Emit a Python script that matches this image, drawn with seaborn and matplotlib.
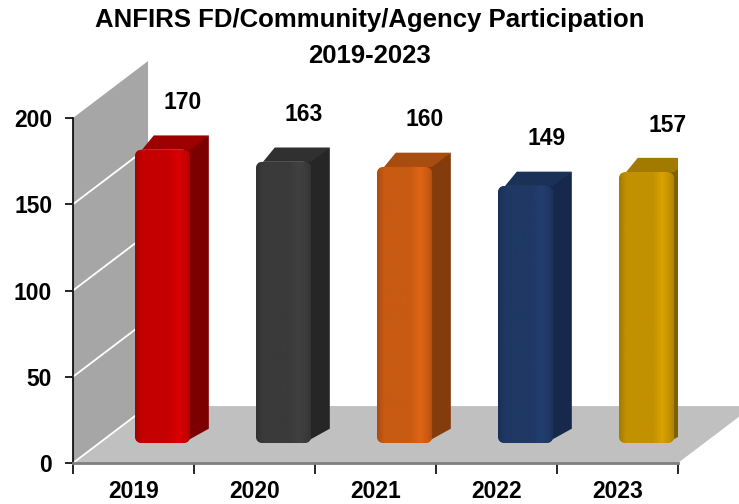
import numpy as np
import matplotlib
matplotlib.use("Agg")
import matplotlib.pyplot as plt
import seaborn as sns
from matplotlib.patches import Polygon, FancyBboxPatch
from matplotlib.colors import LinearSegmentedColormap, to_rgb
from matplotlib.transforms import Affine2D

# chart data
years = ["2019", "2020", "2021", "2022", "2023"]
counts = [170, 163, 160, 149, 157]
front_colors = ["#c40000", "#3a3a3a", "#c85a12", "#1f3864", "#c29100"]
side_colors = ["#7c0000", "#262626", "#853c0c", "#16284b", "#7f6000"]
top_colors = ["#9e0000", "#303030", "#a84c10", "#1b3158", "#a27a00"]
y_ticks = [0, 50, 100, 150, 200]
title_lines = ["ANFIRS FD/Community/Agency Participation", "2019-2023"]

# fake 3d geometry (data units)
DEPTH_X, DEPTH_Y = 0.62, 33.0      # full floor / wall depth
BAR_OX, BAR_OY = 0.24, 11.6        # where bar fronts sit inside the depth
BAR_DX, BAR_DY = 0.155, 8.3        # depth of one bar
ROUND_X, ROUND_ASPECT = 0.058, 70  # corner rounding of the bar fronts

sns.set_style("white")
plt.rcParams["font.family"] = ["Liberation Sans", "DejaVu Sans"]
plt.rcParams["text.color"] = "black"
plt.rcParams["xtick.color"] = "black"
plt.rcParams["ytick.color"] = "black"

fig = plt.figure(figsize=(7.39, 5.04), dpi=100)
ax = fig.add_axes([73 / 739, 41 / 504, 605 / 739, 345 / 504])

sns.barplot(x=years, y=counts, hue=years, palette=front_colors, saturation=1,
            width=0.455, legend=False, ax=ax, zorder=3, linewidth=0)
bars = list(ax.patches)

x_lo, x_hi = -0.5, len(years) - 0.5
y_hi = y_ticks[-1]

# side wall and floor
wall = Polygon([(x_lo, 0), (x_lo, y_hi), (x_lo + DEPTH_X, y_hi + DEPTH_Y),
                (x_lo + DEPTH_X, DEPTH_Y)], closed=True, facecolor="#a6a6a6",
               edgecolor="none", zorder=0.5, clip_on=False)
floor = Polygon([(x_lo, 0), (x_hi, 0), (x_hi + DEPTH_X, DEPTH_Y),
                 (x_lo + DEPTH_X, DEPTH_Y)], closed=True, facecolor="#c0c0c0",
                edgecolor="none", zorder=0.6, clip_on=False)
ax.add_patch(wall)
ax.add_patch(floor)
for v in y_ticks[:-1]:
    ax.plot([x_lo, x_lo + DEPTH_X], [v, v + DEPTH_Y], color="white", lw=1.3,
            zorder=0.7, clip_on=False)


def shade(rgb, k):
    return tuple(min(1.0, c * k) for c in rgb)


for bar, side_c, top_c in zip(bars, side_colors, top_colors):
    x0, w, h = bar.get_x(), bar.get_width(), bar.get_height()
    shift = Affine2D().translate(BAR_OX, BAR_OY) + ax.transData
    bar.set_transform(shift)

    rounded = FancyBboxPatch((x0, 0), w, h,
                             boxstyle=f"round,pad=0,rounding_size={ROUND_X}",
                             mutation_aspect=ROUND_ASPECT, transform=shift,
                             facecolor="none", edgecolor="none", zorder=3)
    ax.add_patch(rounded)
    bar.set_clip_path(rounded)

    xr = x0 + w - ROUND_X
    side = Polygon([(xr, 0), (xr, h), (x0 + w + BAR_DX, h + BAR_DY),
                    (x0 + w + BAR_DX, BAR_DY)], closed=True, facecolor=side_c,
                   edgecolor="none", transform=shift, zorder=2.9)
    top = Polygon([(x0 + ROUND_X, h), (x0 + w, h),
                   (x0 + w + BAR_DX, h + BAR_DY), (x0 + BAR_DX, h + BAR_DY)],
                  closed=True, facecolor=top_c, edgecolor="none",
                  transform=shift, zorder=2.9)
    ax.add_patch(side)
    ax.add_patch(top)

    # soft cylinder-like shading on the front face
    base = to_rgb(bar.get_facecolor())
    cmap = LinearSegmentedColormap.from_list("face", [
        (0.0, shade(base, 0.85)), (0.12, base), (0.6, base),
        (0.78, shade(base, 1.12)), (0.92, base), (1.0, shade(base, 0.88))])
    grad = np.linspace(0, 1, 64).reshape(1, -1)
    im = ax.imshow(grad, cmap=cmap, aspect="auto", zorder=3.2,
                   extent=(x0 + BAR_OX, x0 + w + BAR_OX, BAR_OY, h + BAR_OY))
    im.set_clip_path(rounded)

    ax.text(x0 + w / 2 + BAR_OX + 0.17, h + BAR_OY + 23.5, f"{h:.0f}",
            ha="center", va="baseline", fontsize=16.5, fontweight="bold")

ax.set_xlim(x_lo, x_hi)
ax.set_ylim(0, y_hi)

ax.set_yticks(y_ticks)
ax.set_yticklabels([str(t) for t in y_ticks], fontsize=16.5, fontweight="bold")
ax.set_xticks(np.arange(x_lo, x_hi + 0.01, 1.0))
ax.set_xticklabels([])
ax.set_xticks(range(len(years)), minor=True)
ax.set_xticklabels(years, minor=True, fontsize=16.5, fontweight="bold")
ax.tick_params(axis="y", left=True, length=6, width=1.2, color="black",
               pad=9, labelcolor="black")
ax.tick_params(axis="x", which="major", bottom=True, length=8, width=1.2,
               color="black")
ax.tick_params(axis="x", which="minor", bottom=True, length=0, pad=12,
               labelcolor="black")

for s in ["top", "right"]:
    ax.spines[s].set_visible(False)
ax.spines["left"].set_color("black")
ax.spines["left"].set_linewidth(1.2)
ax.spines["bottom"].set_color("#7f7f7f")
ax.spines["bottom"].set_linewidth(2)

fig.text(0.5, 1 - 27 / 504, title_lines[0], ha="center", va="baseline",
         fontsize=18.5, fontweight="bold")
fig.text(0.5, 1 - 63 / 504, title_lines[1], ha="center", va="baseline",
         fontsize=18.5, fontweight="bold")

fig.savefig("out.png", dpi=100)
